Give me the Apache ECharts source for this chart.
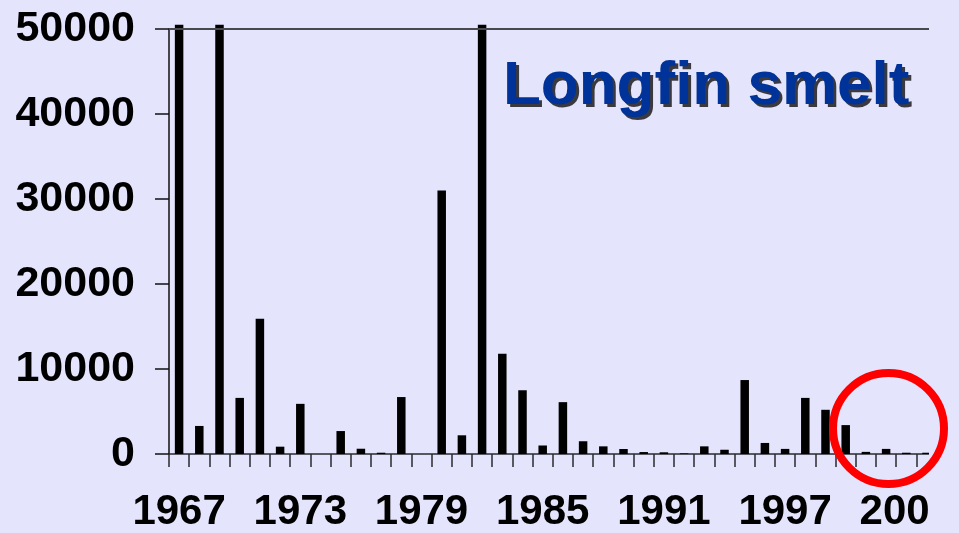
<!DOCTYPE html>
<html>
<head>
<meta charset="utf-8">
<script src="https://cdn.jsdelivr.net/npm/echarts@6/dist/echarts.min.js"></script>
<style>
html,body{margin:0;padding:0;background:#E4E4FC;}
#chart{width:959px;height:533px;}
</style>
</head>
<body>
<div id="chart"></div>
<script>
var years = ['1967','1968','1969','1970','1971','1972','1973','1974','1975','1976',
             '1977','1978','1979','1980','1981','1982','1983','1984','1985','1986',
             '1987','1988','1989','1990','1991','1992','1993','1994','1995','1996',
             '1997','1998','1999','2000','2001','2002','2003','2004'];
var abundance = [50500, 3300, 50500, 6600, 15900, 860, 5900, 0, 2700, 620,
                 150, 6700, 0, 31000, 2200, 50500, 11800, 7500, 1000, 6100,
                 1500, 900, 590, 230, 200, 70, 900, 500, 8700, 1300,
                 600, 6600, 5200, 3400, 250, 600, 150, 150];
var yTicks = [0, 10000, 20000, 30000, 40000, 50000];
var titleText = 'Longfin smelt';

var bg = '#E4E4FC';
var titleFont = 'bold 62px "Liberation Sans", Arial, sans-serif';
var chart = echarts.init(document.getElementById('chart'));
chart.setOption({
  backgroundColor: bg,
  animation: false,
  grid: {left: 169, top: 29, right: 22.4, bottom: 78, containLabel: false},
  xAxis: {
    type: 'category',
    data: years,
    boundaryGap: true,
    axisLine: {lineStyle: {color: '#2a2a30', width: 1.5}},
    axisTick: {show: true, interval: 0, length: 13, lineStyle: {color: '#2a2a30', width: 1.5}},
    axisLabel: {interval: 5, margin: 37, color: '#000', fontSize: 42, fontWeight: 'bold',
                fontFamily: 'Liberation Sans, Arial, sans-serif'},
    splitLine: {show: false}
  },
  yAxis: {
    type: 'value',
    min: yTicks[0],
    max: yTicks[yTicks.length - 1],
    interval: yTicks[1] - yTicks[0],
    axisLine: {show: true, lineStyle: {color: '#111', width: 1.5}},
    axisTick: {show: true, length: 14, lineStyle: {color: '#111', width: 1.5}},
    axisLabel: {margin: 34, color: '#000', fontSize: 43, fontWeight: 'bold',
                fontFamily: 'Liberation Sans, Arial, sans-serif',
                formatter: function (v) { return String(v); }},
    splitLine: {show: false}
  },
  series: [{
    type: 'bar',
    data: abundance,
    barWidth: 8.5,
    clip: false,
    itemStyle: {color: '#000'},
    markLine: {
      silent: true,
      symbol: ['none', 'none'],
      label: {show: false},
      lineStyle: {color: '#48484f', width: 2, type: 'solid'},
      data: [{yAxis: yTicks[yTicks.length - 1]}]
    }
  }],
  graphic: [
    {type: 'rect', z: 100, shape: {x: 929, y: 0, width: 30, height: 533},
     style: {fill: bg}},
    {type: 'text', z: 101, left: 506, top: 59,
     style: {text: titleText, fill: 'rgba(0,0,0,0.75)', font: titleFont,
             shadowColor: 'rgba(0,0,0,0.6)', shadowBlur: 3}},
    {type: 'text', z: 102, left: 503, top: 56,
     style: {text: titleText, fill: '#003399', font: titleFont}},
    {type: 'circle', z: 103, shape: {cx: 888.5, cy: 428.5, r: 55.5},
     style: {fill: 'none', stroke: '#ff0000', lineWidth: 8}}
  ]
});
</script>
</body>
</html>
